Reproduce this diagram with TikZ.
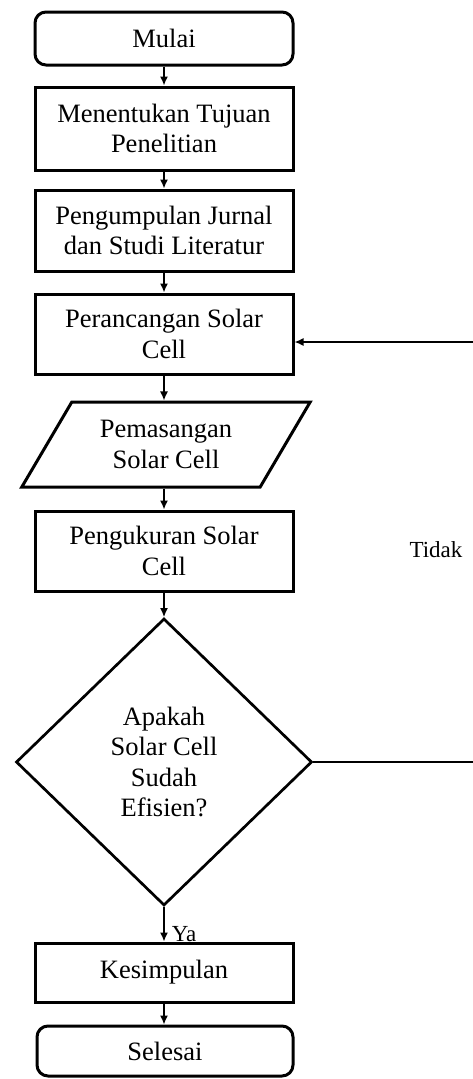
\documentclass[tikz,border=0pt]{standalone}
\usepackage{fontspec}
\setmainfont{Liberation Serif}
\usetikzlibrary{arrows.meta,positioning,shapes.geometric}

\begin{document}
\begin{tikzpicture}[x=1pt, y=-1pt,
  proses/.style={draw, line width=3pt, minimum width=258pt, align=center, font=\fontsize{26.5}{30.5}\selectfont},
  terminal/.style={proses, rounded corners=11pt},
  masukan/.style={proses, trapezium, trapezium left angle=56, trapezium right angle=124, trapezium stretches=true},
  keputusan/.style={proses, diamond, line width=2.7pt},
  alur/.style={-{Latex[length=9pt,width=8pt]}, line width=1.5pt},
  label/.style={font=\fontsize{23}{27}\selectfont}]
  \useasboundingbox (0,0) rectangle (473,1079);
  % Steps
  \node[terminal, minimum height=53pt] (mulai) at (164,38.5) {Mulai};
  \node[proses, minimum height=83pt] (tujuan) at (164,128.5) {Menentukan Tujuan\\Penelitian};
  \node[proses, minimum height=81pt] (jurnal) at (164,230.5) {Pengumpulan Jurnal\\dan Studi Literatur};
  \node[proses, minimum height=80pt] (rancang) at (164,334) {Perancangan Solar\\Cell};
  \node[masukan, minimum width=289pt, minimum height=85pt] (pasang) at (166,444.5) {Pemasangan\\Solar Cell};
  \node[proses, minimum height=80pt] (ukur) at (164,551) {Pengukuran Solar\\Cell};
  \node[keputusan, minimum width=296pt, minimum height=287pt] (cek) at (164,762) {Apakah\\Solar Cell\\Sudah\\Efisien?};
  \node[proses, minimum height=59pt] (simpul) at (164,972.5) {Kesimpulan};
  \node[terminal, minimum width=256pt, minimum height=50pt] (selesai) at (165,1051) {Selesai};
  % Arrows
  \draw[alur] (mulai) -- (tujuan);
  \draw[alur] (tujuan) -- (jurnal);
  \draw[alur] (jurnal) -- (rancang);
  \draw[alur] (rancang.south) -- (rancang.south |- pasang.north);
  \draw[alur] (pasang.south -| ukur.north) -- (ukur.north);
  \draw[alur] (ukur) -- (cek);
  \draw[alur] (cek) -- (simpul) node[label, pos=0.78, right, inner sep=7pt] {Ya};
  \draw[alur] (simpul.south) -- (simpul.south |- selesai.north);
  % Feedback
  \coordinate (kanan1) at (473,762);
  \coordinate (kanan2) at (473,342);
  \draw[line width=1.5pt] (cek.east) -- (kanan1);
  \draw[alur] (kanan2) -- (kanan2 -| rancang.east);
  \node[label] (tidak) at (436,550) {Tidak};
\end{tikzpicture}
\end{document}
